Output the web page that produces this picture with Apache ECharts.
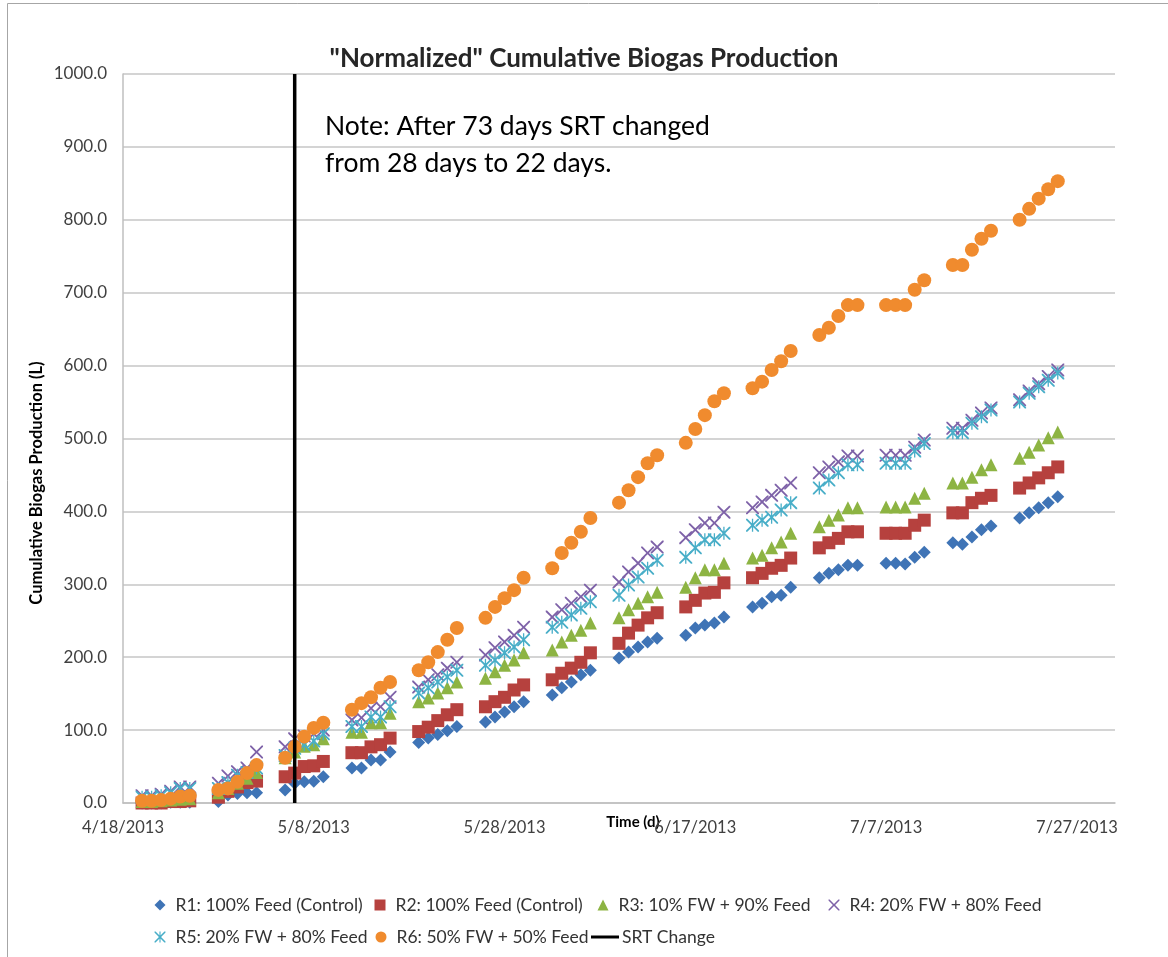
<!DOCTYPE html>
<html>
<head>
	<meta charset="utf-8" />
	<title>Normalized Cumulative Biogas Production</title>
	<script src="https://cdn.jsdelivr.net/npm/echarts@6/dist/echarts.min.js"></script>
	<style>
		body { margin: 0; background: #fff; }
	</style>
</head>
<body>
	<!-- chart container -->
	<div id="main" style="width: 1168px;height: 957px;"></div>
	<script type="text/javascript">

		// days counted from 4/18/2013
		var days = [2, 3, 4, 5, 6, 7,
			10, 11, 12, 13, 14,
			17, 18, 19, 20, 21,
			24, 25, 26, 27, 28,
			31, 32, 33, 34, 35,
			38, 39, 40, 41, 42,
			45, 46, 47, 48, 49,
			52, 53, 54, 55, 56,
			59, 60, 61, 62, 63,
			66, 67, 68, 69, 70,
			73, 74, 75, 76, 77,
			80, 81, 82, 83, 84,
			87, 88, 89, 90, 91,
			94, 95, 96, 97, 98];

		var r1 = [0, 0, 0, 1, 1, 1, 2, 11, 13, 14, 14, 18, 27, 29, 30, 36, 48, 48, 59, 59, 70,
			83, 89, 94, 99, 105, 111, 118, 125, 132, 139, 148, 158, 166, 176, 182,
			199, 207, 214, 221, 226, 230, 240, 244, 247, 255, 269, 274, 283, 285, 296,
			309, 315, 320, 326, 326, 329, 329, 328, 337, 344, 357, 355, 365, 375, 380,
			391, 398, 405, 412, 420];
		var r2 = [0, 0, 0, 2, 2, 3, 8, 16, 22, 28, 30, 36, 41, 50, 51, 57, 69, 69, 77, 80, 89,
			98, 104, 113, 121, 128, 132, 139, 145, 155, 162, 169, 178, 185, 193, 206,
			219, 233, 244, 254, 261, 269, 278, 288, 289, 302, 309, 315, 322, 326, 336,
			350, 357, 363, 372, 372, 370, 370, 370, 381, 388, 398, 398, 412, 418, 422,
			432, 439, 446, 453, 461];
		var r3 = [2, 2, 3, 4, 5, 6, 14, 20, 27, 34, 42, 62, 70, 78, 80, 88, 97, 97, 110, 110, 123,
			139, 144, 151, 158, 166, 171, 180, 189, 196, 206, 210, 221, 230, 237, 247,
			254, 265, 274, 283, 289, 296, 309, 320, 320, 329, 336, 340, 350, 358, 370,
			379, 388, 395, 405, 405, 406, 406, 406, 418, 425, 439, 439, 447, 457, 464,
			473, 481, 491, 501, 509];
		var r4 = [10, 10, 12, 16, 22, 22, 27, 37, 43, 48, 70, 77, 88, 92, 95, 100, 114, 117, 130, 132, 145,
			159, 169, 176, 185, 193, 203, 213, 221, 230, 241, 255, 265, 274, 283, 292,
			303, 317, 329, 343, 351, 364, 375, 384, 384, 399, 405, 413, 422, 429, 439,
			453, 461, 468, 476, 476, 477, 477, 477, 488, 498, 514, 514, 525, 535, 542,
			553, 565, 575, 585, 594];
		var r5 = [8, 8, 10, 14, 20, 20, 20, 28, 38, 42, 48, 65, 75, 80, 85, 95, 105, 105, 118, 118, 132,
			151, 158, 166, 173, 182, 189, 196, 206, 214, 224, 241, 248, 258, 267, 276,
			285, 299, 310, 322, 333, 337, 350, 361, 361, 370, 381, 388, 392, 402, 412,
			432, 443, 453, 464, 464, 466, 466, 466, 483, 493, 508, 508, 521, 530, 539,
			550, 562, 571, 580, 590];
		var r6 = [3, 3, 4, 6, 9, 10, 18, 20, 29, 41, 52, 62, 77, 91, 103, 110, 128, 137, 145, 158, 166,
			182, 193, 207, 224, 240, 254, 269, 281, 292, 309, 322, 343, 357, 372, 391,
			412, 429, 447, 466, 477, 494, 513, 532, 551, 562, 569, 578, 594, 606, 620,
			642, 652, 668, 683, 683, 683, 683, 683, 704, 717, 738, 738, 759, 774, 785,
			800, 815, 829, 842, 853];

		// SRT change line
		var srtDays = [18, 18];
		var srtLevels = [0, 1000];

		var names = ['R1: 100% Feed (Control)', 'R2: 100% Feed (Control)', 'R3: 10% FW + 90% Feed',
			'R4: 20% FW + 80% Feed', 'R5: 20% FW + 80% Feed', 'R6: 50% FW + 50% Feed', 'SRT Change'];

		var FONT = 'Lato, "Liberation Sans", sans-serif';
		var xMark = 'path://M0,0 L2,0 L10,8 L18,0 L20,0 L20,2 L12,10 L20,18 L20,20 L18,20 L10,12 L2,20 L0,20 L0,18 L8,10 L0,2 Z';
		var starMark = xMark + ' M9,0 L11,0 L11,20 L9,20 Z';

		function pairs(xs, ys) {
			return xs.map(function (d, i) { return [d, ys[i]]; });
		}

		function dayLabel(v) {
			if (v % 20 !== 0) return '';
			var d = new Date(2013, 3, 18 + v);
			return (d.getMonth() + 1) + '/' + d.getDate() + '/' + d.getFullYear();
		}

		function scatter(name, data, symbol, size, color) {
			return {
				name: name,
				type: 'scatter',
				data: pairs(days, data),
				symbol: symbol,
				symbolSize: size,
				itemStyle: { color: color, opacity: 1 }
			};
		}

		// one legend per entry so each sits where it does in the picture
		function legendItem(name, left, top) {
			return {
				data: [name],
				left: left, top: top,
				itemWidth: 11, itemHeight: 11,
				textStyle: { fontFamily: FONT, fontSize: 17.5, color: '#333', padding: [0, 0, 0, 5] }
			};
		}

		var myChart = echarts.init(document.getElementById('main'));

		var srtLegend = {
			data: [{ name: names[6], icon: 'rect' }],
			left: 586, top: 923,
			itemWidth: 28, itemHeight: 3,
			textStyle: { fontFamily: FONT, fontSize: 17.5, color: '#333', padding: [0, 0, 0, -2] }
		};

		var option = {
			backgroundColor: '#fff',
			animation: false,
			textStyle: { fontFamily: FONT },
			title: {
				text: '"Normalized" Cumulative Biogas Production',
				left: 'center',
				top: 41,
				textStyle: { fontFamily: FONT, fontSize: 26, fontWeight: 'bold', color: '#262626' }
			},
			grid: { left: 123, right: 53, top: 74, bottom: 154 },
			legend: [
				legendItem(names[0], 149.5, 891),
				legendItem(names[1], 369.5, 891),
				legendItem(names[2], 592.5, 891),
				legendItem(names[3], 823.5, 891),
				legendItem(names[4], 149.5, 923),
				legendItem(names[5], 370.5, 923),
				srtLegend
			],
			xAxis: {
				type: 'value',
				min: 0,
				max: 104,
				interval: 20,
				axisLine: { lineStyle: { color: '#bfbfbf', width: 1.5 } },
				axisTick: { show: false },
				splitLine: { show: false },
				axisLabel: {
					formatter: dayLabel,
					showMaxLabel: false,
					margin: 16,
					fontFamily: FONT, fontSize: 16.5, color: '#404040'
				}
			},
			yAxis: {
				type: 'value',
				min: 0,
				max: 1000,
				interval: 100,
				axisLine: { show: true, lineStyle: { color: '#bfbfbf', width: 1.5 } },
				axisTick: { show: false },
				splitLine: { lineStyle: { color: '#c6c6c6', width: 1.5 } },
				axisLabel: {
					formatter: function (v) { return v.toFixed(1); },
					margin: 16,
					fontFamily: FONT, fontSize: 17, color: '#404040'
				}
			},
			graphic: [
				{ type: 'rect', shape: { x: 7.5, y: 3.5, width: 1170, height: 1000 },
					style: { fill: 'none', stroke: '#a6a6a6', lineWidth: 1 } },
				{ type: 'text', x: 325, y: 113,
					style: { text: 'Note: After 73 days SRT changed', fontFamily: FONT, fontSize: 26.5, fill: '#000' } },
				{ type: 'text', x: 325, y: 150,
					style: { text: 'from 28 days to 22 days.', fontFamily: FONT, fontSize: 26.5, fill: '#000' } },
				{ type: 'text', x: 633, y: 822,
					style: { text: 'Time (d)', fontFamily: FONT, fontSize: 15, fontWeight: 'bold', fill: '#000',
						textAlign: 'center', textVerticalAlign: 'middle' } },
				{ type: 'text', x: 37, y: 483, rotation: Math.PI / 2,
					style: { text: 'Cumulative Biogas Production (L)', fontFamily: FONT, fontSize: 16.5, fontWeight: 'bold', fill: '#000',
						textAlign: 'center', textVerticalAlign: 'middle' } }
			],
			series: [
				scatter(names[0], r1, 'diamond', 13, '#3F74B6'),
				scatter(names[1], r2, 'rect', 13, '#B6413E'),
				scatter(names[2], r3, 'triangle', 13, '#8DB443'),
				scatter(names[3], r4, xMark, 13, '#7E62A8'),
				scatter(names[4], r5, starMark, 13, '#48AEC8'),
				scatter(names[5], r6, 'circle', 14, '#F08B2E'),
				{
					name: names[6],
					type: 'line',
					data: pairs(srtDays, srtLevels),
					symbol: 'none',
					lineStyle: { color: '#000', width: 3.5 },
					itemStyle: { color: '#000' },
					z: 5
				}
			]
		};

		myChart.setOption(option);
	</script>
</body>
</html>
